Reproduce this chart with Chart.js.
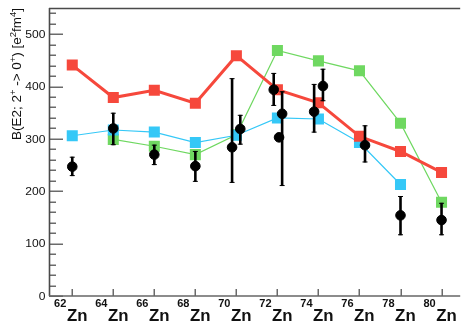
<!DOCTYPE html>
<html>
<head>
<meta charset="utf-8">
<script src="https://cdn.jsdelivr.net/npm/chart.js@4/dist/chart.umd.min.js"></script>
<style>
  html, body { margin: 0; padding: 0; background: #fff; }
  canvas { display: block; }
</style>
</head>
<body>
<canvas id="c" width="468" height="323"></canvas>
<script>
// Zn isotopes: mass numbers on the x axis
const massNumbers = [62, 64, 66, 68, 70, 72, 74, 76, 78, 80];

// Calculated B(E2; 2+ -> 0+) values, e^2 fm^4
const redCalc   = [441, 379, 393, 368, 459, 394, 369, 305, 276, 236];
const greenCalc = [null, 299, 286, 270, 308, 469, 449, 430, 330, 179];
const blueCalc  = [306, 317, 313, 293, 307, 340, 338, 293, 213, null];

// Measured values (several measurements per isotope, slightly offset)
const expA    = [62, 64, 66, 68, 69.79, 70.19, 71.82, 72.23, 72.08, 73.79, 74.22, 76.27, 78, 80];
const expB    = [247, 320, 270, 248, 284, 319, 394, 348, 303, 352, 401, 288, 154, 145];
const expHigh = [266, 350, 289, 277, 416, 346, 426, 391, null, 405, 434, 326, 191, 178];
const expLow  = [229, 288, 250, 218, 216, 289, 363, 210, null, 312, 372, 255, 116, 116];

// Axis ticks
const yTicks = [0, 100, 200, 300, 400, 500];
const yMinorStep = 20;
const elementName = 'Zn';

const RED = '#f6483c';
const GREEN = '#6fd861';
const BLUE = '#35c8f7';

function toPoints(xs, ys) {
  const pts = [];
  xs.forEach((x, i) => { if (ys[i] !== null) pts.push({ x: x, y: ys[i] }); });
  return pts;
}

// Draw text horizontally widened by sx
function stretchedText(ctx, text, x, y, sx) {
  ctx.save();
  ctx.translate(x, y);
  ctx.scale(sx, 1);
  ctx.fillText(text, 0, 0);
  ctx.restore();
}

const errorBars = {
  id: 'errorBars',
  beforeDatasetDraw(chart, args) {
    if (args.index !== 3) return;
    const ctx = chart.ctx;
    const xs = chart.scales.x, ys = chart.scales.y;
    ctx.save();
    ctx.strokeStyle = '#000';
    expA.forEach((a, i) => {
      if (expHigh[i] === null) return;
      const px = xs.getPixelForValue(a);
      const yt = ys.getPixelForValue(expHigh[i]);
      const yb = ys.getPixelForValue(expLow[i]);
      ctx.lineWidth = 2.6;
      ctx.beginPath();
      ctx.moveTo(px, yt); ctx.lineTo(px, yb);
      ctx.stroke();
      ctx.lineWidth = 1;
      ctx.beginPath();
      ctx.moveTo(px - 2.5, yt + 0.5); ctx.lineTo(px + 2.5, yt + 0.5);
      ctx.moveTo(px - 2.5, yb - 0.5); ctx.lineTo(px + 2.5, yb - 0.5);
      ctx.stroke();
    });
    ctx.restore();
  }
};

const frame = {
  id: 'frame',
  beforeDatasetsDraw(chart) {
    const ctx = chart.ctx;
    const a = chart.chartArea;
    const xs = chart.scales.x, ys = chart.scales.y;
    ctx.save();
    // minor and major y ticks
    ctx.strokeStyle = '#6a6a6a';
    ctx.lineWidth = 1.5;
    for (let v = 0; v <= ys.max; v += yMinorStep) {
      const py = Math.round(ys.getPixelForValue(v)) + 0.25;
      const len = (v % 100 === 0) ? 14 : 7;
      ctx.beginPath();
      ctx.moveTo(a.left, py); ctx.lineTo(a.left + len, py);
      ctx.stroke();
    }
    // x ticks
    massNumbers.forEach(m => {
      const px = Math.round(xs.getPixelForValue(m)) + 0.25;
      ctx.beginPath();
      ctx.moveTo(px, a.bottom); ctx.lineTo(px, a.bottom - 7);
      ctx.stroke();
    });
    // frame lines
    ctx.strokeStyle = '#4a4a4a';
    ctx.lineWidth = 1.6;
    ctx.beginPath();
    ctx.moveTo(a.left, a.top + 0.5); ctx.lineTo(a.right, a.top + 0.5);
    ctx.moveTo(a.left + 0.5, a.top); ctx.lineTo(a.left + 0.5, a.bottom);
    ctx.stroke();
    ctx.strokeStyle = '#666';
    ctx.beginPath();
    ctx.moveTo(a.left, a.bottom); ctx.lineTo(a.right, a.bottom);
    ctx.stroke();
    ctx.restore();
  },
  afterDraw(chart) {
    const ctx = chart.ctx;
    const a = chart.chartArea;
    const xs = chart.scales.x, ys = chart.scales.y;
    ctx.save();
    ctx.fillStyle = '#111';
    ctx.textBaseline = 'alphabetic';
    ctx.textAlign = 'left';

    // y tick labels
    const sxY = 1.15;
    ctx.font = '10.5px "Liberation Sans", Arial, sans-serif';
    yTicks.forEach(v => {
      const s = String(v);
      const w = ctx.measureText(s).width * sxY;
      stretchedText(ctx, s, 45.5 - w, ys.getPixelForValue(v) + 3.8, sxY);
    });

    // x tick labels: superscript mass number + element symbol
    const sxX = 1.05;
    const supFont = 'bold 10.5px "Liberation Sans", Arial, sans-serif';
    const elFont = 'bold 16px "Liberation Sans", Arial, sans-serif';
    massNumbers.forEach(m => {
      const sup = String(m);
      ctx.font = supFont;
      const wSup = ctx.measureText(sup).width * sxX;
      ctx.font = elFont;
      const wEl = ctx.measureText(elementName).width * sxX;
      const cx = xs.getPixelForValue(m) - 1.5;
      const x0 = cx - (wSup + wEl + 0.5) / 2;
      ctx.font = supFont;
      stretchedText(ctx, sup, x0, 306.5, sxX);
      ctx.font = elFont;
      stretchedText(ctx, elementName, x0 + wSup + 0.5, 320.5, sxX);
    });

    // y axis title, rotated, ending at the top of the axis
    const parts = [
      ['B(E2; 2', false], ['+', true], [' -> 0', false], ['+', true],
      [') [e', false], ['2', true], ['fm', false], ['4', true], [']', false]
    ];
    const base = '12px "Liberation Sans", Arial, sans-serif';
    const small = '8.5px "Liberation Sans", Arial, sans-serif';
    let total = 0;
    parts.forEach(p => { ctx.font = p[1] ? small : base; total += ctx.measureText(p[0]).width; });
    const along = 1.12;
    ctx.translate(21, a.top);
    ctx.rotate(-Math.PI / 2);
    ctx.scale(along, 1);
    let x = -total;
    parts.forEach(p => {
      ctx.font = p[1] ? small : base;
      ctx.fillText(p[0], x, p[1] ? -5 : 0);
      x += ctx.measureText(p[0]).width;
    });
    ctx.restore();
  }
};

new Chart(document.getElementById('c'), {
  type: 'scatter',
  data: {
    datasets: [
      {
        data: toPoints(massNumbers, redCalc),
        showLine: true, borderColor: RED, borderWidth: 3,
        pointStyle: 'rect', pointRadius: 7.8, pointBackgroundColor: RED,
        pointBorderWidth: 0, tension: 0, order: 2
      },
      {
        data: toPoints(massNumbers, blueCalc),
        showLine: true, borderColor: BLUE, borderWidth: 1.2,
        pointStyle: 'rect', pointRadius: 7.8, pointBackgroundColor: BLUE,
        pointBorderWidth: 0, tension: 0, order: 3
      },
      {
        data: toPoints(massNumbers, greenCalc),
        showLine: true, borderColor: GREEN, borderWidth: 1.2,
        pointStyle: 'rect', pointRadius: 7.8, pointBackgroundColor: GREEN,
        pointBorderWidth: 0, tension: 0, order: 4
      },
      {
        data: toPoints(expA, expB),
        showLine: false, pointStyle: 'circle', pointRadius: 4.8,
        pointBackgroundColor: '#000', pointBorderColor: '#000', pointBorderWidth: 1,
        order: 1
      }
    ]
  },
  options: {
    responsive: false,
    animation: false,
    devicePixelRatio: 1,
    layout: { padding: { left: 49, top: 8, right: 0, bottom: 27 } },
    plugins: { legend: { display: false }, tooltip: { enabled: false } },
    scales: {
      x: { type: 'linear', display: false, min: 60.866, max: 80.91 },
      y: { type: 'linear', display: false, min: 0, max: 550 }
    }
  },
  plugins: [frame, errorBars]
});
</script>
</body>
</html>
